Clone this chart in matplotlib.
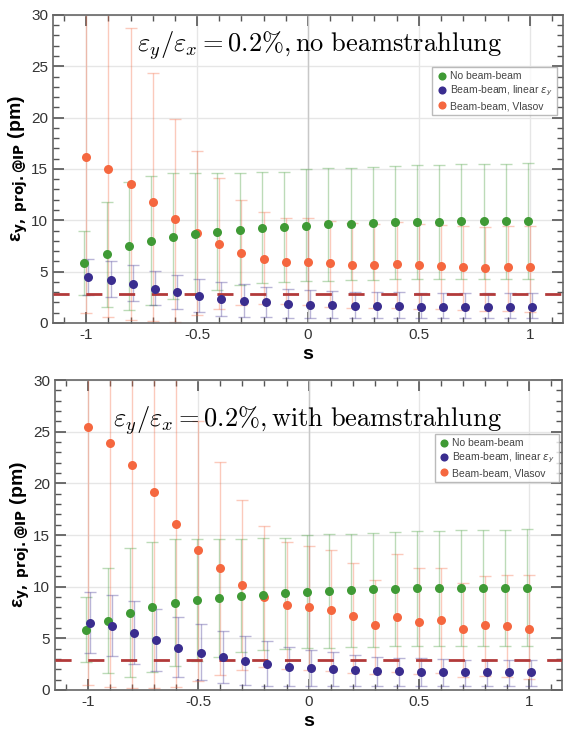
import matplotlib
matplotlib.use('Agg')
import numpy as np
import matplotlib.pyplot as plt
from matplotlib.ticker import MultipleLocator

#-----------------------------------------
#--- Data
#-----------------------------------------
s = [-1.0, -0.9, -0.8, -0.7, -0.6, -0.5, -0.4, -0.3, -0.2, -0.1, 0.0,
     0.1, 0.2, 0.3, 0.4, 0.5, 0.6, 0.7, 0.8, 0.9, 1.0]

# no beam-beam (same in both panels)
nobb     = [5.85, 6.7, 7.5, 8.0, 8.4, 8.7, 8.9, 9.06, 9.2, 9.38, 9.48,
            9.6, 9.65, 9.75, 9.8, 9.85, 9.85, 9.9, 9.9, 9.9, 9.9]
nobb_hi  = [9.0, 11.8, 13.7, 14.3, 14.6, 14.6, 14.6, 14.6, 14.7, 14.7, 15.0,
            15.1, 15.1, 15.2, 15.3, 15.4, 15.4, 15.5, 15.5, 15.5, 15.6]
nobb_lo  = [2.7, 1.6, 1.3, 1.7, 2.3, 2.8, 3.2, 3.7, 3.9, 4.0, 4.1,
            4.1, 4.2, 4.2, 4.25, 4.25, 4.3, 4.3, 4.3, 4.3, 4.3]

# top panel: no beamstrahlung
lin1     = [4.45, 4.2, 3.8, 3.35, 3.0, 2.65, 2.35, 2.17, 2.0, 1.85, 1.75,
            1.7, 1.68, 1.65, 1.62, 1.6, 1.6, 1.58, 1.58, 1.58, 1.58]
lin1_hi  = [6.25, 6.0, 5.6, 5.05, 4.7, 4.3, 4.0, 3.8, 3.55, 3.35, 3.2,
            3.1, 3.05, 3.0, 3.0, 2.95, 2.95, 2.9, 2.9, 2.9, 2.9]
lin1_lo  = [2.7, 2.5, 2.15, 1.7, 1.35, 1.05, 0.7, 0.62, 0.55, 0.5, 0.48,
            0.47, 0.46, 0.45, 0.45, 0.45, 0.44, 0.44, 0.44, 0.44, 0.44]
vla1     = [16.2, 15.0, 13.5, 11.8, 10.1, 8.8, 7.7, 6.85, 6.25, 5.95, 5.9,
            5.8, 5.65, 5.6, 5.7, 5.6, 5.5, 5.45, 5.4, 5.45, 5.45]
vla1_hi  = [33.0, 33.0, 28.7, 24.3, 19.9, 16.7, 14.1, 12.0, 10.8, 10.2, 10.2,
            9.9, 9.7, 9.6, 9.8, 9.6, 9.5, 9.4, 9.3, 9.4, 9.4]
vla1_lo  = [1.0, 0.6, 0.3, 0.2, 0.1, 0.8, 1.35, 1.75, 1.8, 1.8, 1.7,
            1.6, 1.5, 1.5, 1.5, 1.4, 1.4, 1.3, 1.2, 1.2, 1.1]

# bottom panel: with beamstrahlung
lin2     = [6.5, 6.2, 5.55, 4.84, 4.1, 3.6, 3.2, 2.8, 2.5, 2.25, 2.1,
            2.0, 1.9, 1.85, 1.8, 1.75, 1.7, 1.7, 1.7, 1.7, 1.7]
lin2_hi  = [9.45, 9.2, 8.6, 7.85, 7.1, 6.4, 5.75, 5.2, 4.7, 4.2, 3.9,
            3.65, 3.4, 3.2, 3.1, 3.05, 3.0, 2.95, 2.9, 2.9, 2.9]
lin2_lo  = [3.55, 3.25, 2.5, 1.8, 1.25, 0.95, 0.65, 0.5, 0.4, 0.35, 0.35,
            0.35, 0.35, 0.35, 0.35, 0.35, 0.35, 0.35, 0.35, 0.35, 0.35]
vla2     = [25.5, 23.9, 21.8, 19.2, 16.1, 13.55, 11.8, 10.15, 9.0, 8.2, 8.05,
            7.7, 7.15, 6.3, 7.1, 6.55, 6.8, 5.95, 6.25, 6.15, 5.95]
vla2_hi  = [33.0, 33.0, 33.0, 33.0, 33.0, 26.0, 22.1, 18.4, 15.9, 14.3, 13.9,
            13.55, 12.3, 10.65, 13.2, 11.85, 11.8, 10.4, 11.0, 11.1, 11.15]
vla2_lo  = [0.5, 0.3, 0.2, 0.2, 0.3, 0.9, 1.45, 1.9, 2.2, 2.0, 1.9,
            1.8, 1.6, 1.5, 1.7, 1.5, 1.6, 1.3, 1.4, 1.3, 1.1]

cut_top = 2.8   # dashed reference level
cut_bot = 2.9

titles = [r'$\varepsilon_y/\varepsilon_x = 0.2\%, \mathrm{no\ beamstrahlung}$',
          r'$\varepsilon_y/\varepsilon_x = 0.2\%, \mathrm{with\ beamstrahlung}$']
labels = ['No beam-beam', r'Beam-beam, linear $\varepsilon_y$', 'Beam-beam, Vlasov']

#-----------------------------------------
#--- Style
#-----------------------------------------
c_green = '#3f9a35'
c_blue = '#3a2d8f'
c_orange = '#f5673f'
c_dash = '#b23a3a'
c_tick = '#333333'

plt.rcParams['font.family'] = ['Liberation Sans', 'DejaVu Sans']

fig = plt.figure(figsize=(5.66, 7.29), dpi=100)
ax_top = fig.add_axes([0.0936, 0.557, 0.901, 0.4225])
ax_bot = fig.add_axes([0.0972, 0.0535, 0.896, 0.4252])

panels = [
    (ax_top, lin1, lin1_hi, lin1_lo, vla1, vla1_hi, vla1_lo, cut_top, titles[0],
     (0.523, 0.90), (0.988, 0.83)),
    (ax_bot, lin2, lin2_hi, lin2_lo, vla2, vla2_hi, vla2_lo, cut_bot, titles[1],
     (0.497, 0.87), (0.994, 0.825)),
]

s_arr = np.array(s)

def draw_series(ax, x, y, hi, lo, color, label, z):
    y = np.array(y)
    err = [y - np.array(lo), np.array(hi) - y]
    ax.errorbar(x, y, yerr=err, fmt='none', ecolor=color, elinewidth=1.0,
                capsize=4.5, capthick=1.0, alpha=0.35, zorder=z)
    ax.plot(x, y, 'o', color=color, markersize=6.5, markeredgewidth=0,
            label=label, zorder=z + 5)

for (ax, lin, lin_hi, lin_lo, vla, vla_hi, vla_lo, cut, ttl, tpos, lpos) in panels:
    draw_series(ax, s_arr - 0.008, nobb, nobb_hi, nobb_lo, c_green, labels[0], 3)
    draw_series(ax, s_arr + 0.01, lin, lin_hi, lin_lo, c_blue, labels[1], 4)
    draw_series(ax, s_arr, vla, vla_hi, vla_lo, c_orange, labels[2], 2)

    ax.axhline(cut, color=c_dash, linewidth=2.0, linestyle=(0, (5.8, 6.0)), zorder=6)
    ax.axvline(0, color='#c8c8c8', linewidth=1.0, zorder=1)

    ax.set_xlim(-1.15, 1.15)
    ax.set_ylim(0, 30)
    ax.xaxis.set_major_locator(MultipleLocator(0.5))
    ax.xaxis.set_minor_locator(MultipleLocator(0.1))
    ax.yaxis.set_major_locator(MultipleLocator(5))
    ax.yaxis.set_minor_locator(MultipleLocator(1))
    ax.set_xticks([-1, -0.5, 0, 0.5, 1])
    ax.set_xticklabels(['-1', '-0.5', '0', '0.5', '1'])
    ax.tick_params(which='both', direction='in', top=True, right=True,
                   colors='#555555', labelcolor=c_tick, labelsize=11)
    ax.tick_params(which='major', length=8, width=1.2)
    ax.tick_params(which='minor', length=4, width=1.0)
    ax.grid(True, which='major', color='#e6e6e6', linewidth=1.0, zorder=0)
    ax.set_axisbelow(True)
    for sp in ax.spines.values():
        sp.set_color('#666666')
        sp.set_linewidth(1.2)

    ax.set_xlabel('s', fontsize=14, fontweight='bold', labelpad=3)
    ax.set_ylabel(r'ε$_{\mathbf{y,\ proj.@IP}}$ (pm)', fontsize=14,
                  fontweight='bold', labelpad=1)

    ax.text(tpos[0], tpos[1], ttl, transform=ax.transAxes, ha='center',
            va='center', fontsize=19, math_fontfamily='cm', zorder=8)

    leg = ax.legend(loc='upper right', bbox_to_anchor=lpos, fontsize=7.5,
                    frameon=True, fancybox=False, borderpad=0.4,
                    handletextpad=0.3, handlelength=1.0, labelspacing=0.25,
                    borderaxespad=0.0, markerscale=0.9)
    leg.get_frame().set_edgecolor('#aaaaaa')
    leg.get_frame().set_linewidth(1.0)
    for t in leg.get_texts():
        t.set_color('#444444')

fig.savefig('out.png', dpi=100)
